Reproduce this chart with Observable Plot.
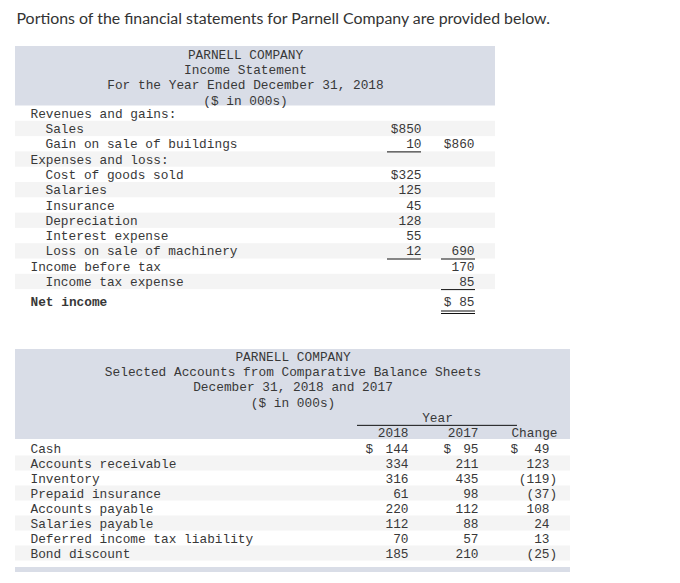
<!DOCTYPE html>
<html><head><meta charset="utf-8">
<script src="https://cdn.jsdelivr.net/npm/d3@7"></script>
<script src="https://cdn.jsdelivr.net/npm/@observablehq/plot@0.6"></script>
<style>body{margin:0;background:#fff} svg{display:block}</style>
</head><body><div id="chart"></div>
<script>
// ---------- data ----------
const title = "Portions of the financial statements for Parnell Company are provided below.";
const incomeHeader = ["PARNELL COMPANY", "Income Statement", "For the Year Ended December 31, 2018", "($ in 000s)"];
const incomeLabels = ["Revenues and gains:", "Sales", "Gain on sale of buildings", "Expenses and loss:", "Cost of goods sold", "Salaries", "Insurance", "Depreciation", "Interest expense", "Loss on sale of machinery", "Income before tax", "Income tax expense", "Net income"];
const incomeIndent = [0, 1, 1, 0, 1, 1, 1, 1, 1, 1, 0, 1, 0];
const itemAmounts = [null, 850, 10, null, 325, 125, 45, 128, 55, 12, null, null, null];
const totalAmounts = [null, null, 860, null, null, null, null, null, null, 690, 170, 85, 85];
const dollarItems = ["Sales", "Cost of goods sold"];
const dollarTotals = ["Gain on sale of buildings"];
const spacedDollarTotals = ["Net income"];
const underlineItems = ["Gain on sale of buildings", "Loss on sale of machinery"];
const underlineTotals = ["Loss on sale of machinery", "Income tax expense"];
const doubleUnderlineTotals = ["Net income"];

const balanceHeader = ["PARNELL COMPANY", "Selected Accounts from Comparative Balance Sheets", "December 31, 2018 and 2017", "($ in 000s)"];
const yearGroup = "Year";
const columns = ["2018", "2017", "Change"];
const accounts = ["Cash", "Accounts receivable", "Inventory", "Prepaid insurance", "Accounts payable", "Salaries payable", "Deferred income tax liability", "Bond discount"];
const bal2018 = [144, 334, 316, 61, 220, 112, 70, 185];
const bal2017 = [95, 211, 435, 98, 112, 88, 57, 210];
const balChange = [49, 123, -119, -37, 108, 24, 13, -25];

// ---------- layout ----------
const W = 680, H = 583;
const MONO = "Liberation Mono, DejaVu Sans Mono, monospace";
const SANS = "Lato, Liberation Sans, sans-serif";
const INK = "#383838";
const HEAD_BG = "#d9dde7";
const STRIPE = "#f4f4f4";
const FS = 12.8;

const T1 = {left: 15, right: 495, headTop: 46, bodyTop: 105.5, headY0: 54, headStep: 15.3, rowH: 15.3,
  center: 245, labelX: 30, indent: 15, col1: 421, col2: 474, ulW: 34, netGap: 5, dbl: [310.5, 313]};
const T2 = {left: 15, right: 570, headTop: 349, headBottom: 439, headY0: 356, headStep: 15.3,
  rowY0: 448, rowH: 15, center: 292.5, labelX: 30, cols: [408, 478, 549], dollars: [365, 443, 510],
  yearX: 437, yearLine: [357, 517], bar: [567, 572]};

// ---------- derived tables ----------
const nIncome = incomeLabels.length;
const rowY1 = i => T1.bodyTop + T1.rowH * (i + 0.5) + (i === nIncome - 1 ? T1.netGap : 0);
const rowsIncome = incomeLabels.map((label, i) => ({
  label, i, indent: incomeIndent[i], item: itemAmounts[i], total: totalAmounts[i],
  y: rowY1(i), top: T1.bodyTop + T1.rowH * i, bottom: T1.bodyTop + T1.rowH * (i + 1)
}));
const stripes1 = rowsIncome.filter(d => d.i % 2 === 1);
const itemRows = rowsIncome.filter(d => d.item != null);
const totalRows = rowsIncome.filter(d => d.total != null);
const fmtItem = d => (dollarItems.includes(d.label) ? "$" : "") + d.item;
const fmtTotal = d => (dollarTotals.includes(d.label) ? "$" : spacedDollarTotals.includes(d.label) ? "$ " : "") + d.total;

const rowsBal = accounts.map((label, j) => ({
  label, j, v: [bal2018[j], bal2017[j], balChange[j]],
  y: T2.rowY0 + T2.rowH * j, top: T2.rowY0 + T2.rowH * (j - 0.5)
}));
const stripes2 = rowsBal.filter(d => d.j % 2 === 1);
const cells = rowsBal.flatMap(r => r.v.map((v, c) => ({r, c, v})));
const fmtBal = v => v < 0 ? `(${-v})` : `${v}`;

const headerRows1 = incomeHeader.map((t, k) => ({t, y: T1.headY0 + T1.headStep * k}));
const headerRows2 = balanceHeader.map((t, k) => ({t, y: T2.headY0 + T2.headStep * k}));
const yearY = T2.headY0 + T2.headStep * 4;
const colY = T2.headY0 + T2.headStep * 5;

const txt = {fontFamily: MONO, fontSize: FS, fill: INK};

const chart = Plot.plot({
  width: W, height: H, margin: 0,
  x: {domain: [0, W], range: [0, W], axis: null},
  y: {domain: [0, H], range: [0, H], axis: null},
  style: {background: "#fff"},
  marks: [
    // title
    Plot.text([title], {x: 16, y: 18, text: d => d, textAnchor: "start", fontFamily: SANS, fontSize: 15.9, fill: "#333"}),

    // ===== Income statement =====
    Plot.rect([0], {x1: T1.left, x2: T1.right, y1: T1.headTop, y2: T1.bodyTop, fill: HEAD_BG}),
    Plot.rect(stripes1, {x1: T1.left, x2: T1.right, y1: "top", y2: "bottom", fill: STRIPE}),
    Plot.text(headerRows1, {x: T1.center, y: "y", text: "t", textAnchor: "middle", ...txt}),
    Plot.text(rowsIncome.filter(d => d.i !== nIncome - 1), {x: d => T1.labelX + d.indent * T1.indent, y: "y", text: "label", textAnchor: "start", ...txt}),
    Plot.text(rowsIncome.filter(d => d.i === nIncome - 1), {x: d => T1.labelX + d.indent * T1.indent, y: "y", text: "label", textAnchor: "start", fontWeight: "bold", ...txt}),
    Plot.text(itemRows, {x: T1.col1, y: "y", text: fmtItem, textAnchor: "end", ...txt}),
    Plot.text(totalRows, {x: T1.col2, y: "y", text: fmtTotal, textAnchor: "end", ...txt}),
    Plot.ruleY(rowsIncome.filter(d => underlineItems.includes(d.label)), {y: "bottom", x1: T1.col1 - T1.ulW, x2: T1.col1, stroke: "#111", strokeWidth: 1}),
    Plot.ruleY(rowsIncome.filter(d => underlineTotals.includes(d.label)), {y: "bottom", x1: T1.col2 - T1.ulW + 1, x2: T1.col2 + 1, stroke: "#111", strokeWidth: 1}),
    Plot.ruleY(rowsIncome.filter(d => doubleUnderlineTotals.includes(d.label)).flatMap(d => T1.dbl.map(yy => ({yy}))), {y: "yy", x1: T1.col2 - T1.ulW + 1, x2: T1.col2 + 1, stroke: "#111", strokeWidth: 1}),

    // ===== Balance sheet =====
    Plot.rect([0], {x1: T2.left, x2: T2.right, y1: T2.headTop, y2: T2.headBottom, fill: HEAD_BG}),
    Plot.rect(stripes2, {x1: T2.left, x2: T2.right, y1: "top", y2: d => d.top + T2.rowH, fill: STRIPE}),
    Plot.rect([0], {x1: T2.left, x2: T2.right, y1: T2.bar[0], y2: T2.bar[1], fill: HEAD_BG}),
    Plot.text(headerRows2, {x: T2.center, y: "y", text: "t", textAnchor: "middle", ...txt}),
    Plot.text([yearGroup], {x: T2.yearX, y: yearY, text: d => d, textAnchor: "middle", ...txt}),
    Plot.ruleY([0], {y: (yearY + colY) / 2, x1: T2.yearLine[0], x2: T2.yearLine[1], stroke: "#111", strokeWidth: 1}),
    Plot.text(columns, {x: (d, c) => c === 2 ? T2.cols[c] + 8 : T2.cols[c], y: colY, text: d => d, textAnchor: "end", ...txt}),
    Plot.text(rowsBal, {x: T2.labelX, y: "y", text: "label", textAnchor: "start", ...txt}),
    Plot.text(cells.filter(d => d.v >= 0), {x: d => T2.cols[d.c], y: d => d.r.y, text: d => fmtBal(d.v), textAnchor: "end", ...txt}),
    Plot.text(cells.filter(d => d.v < 0), {x: d => T2.cols[d.c] + 7.7, y: d => d.r.y, text: d => fmtBal(d.v), textAnchor: "end", ...txt}),
    Plot.text(cells.filter(d => d.r.j === 0), {x: d => T2.dollars[d.c], y: d => d.r.y, text: () => "$", textAnchor: "start", ...txt})
  ]
});
document.getElementById("chart").append(chart);
</script>
</body></html>
